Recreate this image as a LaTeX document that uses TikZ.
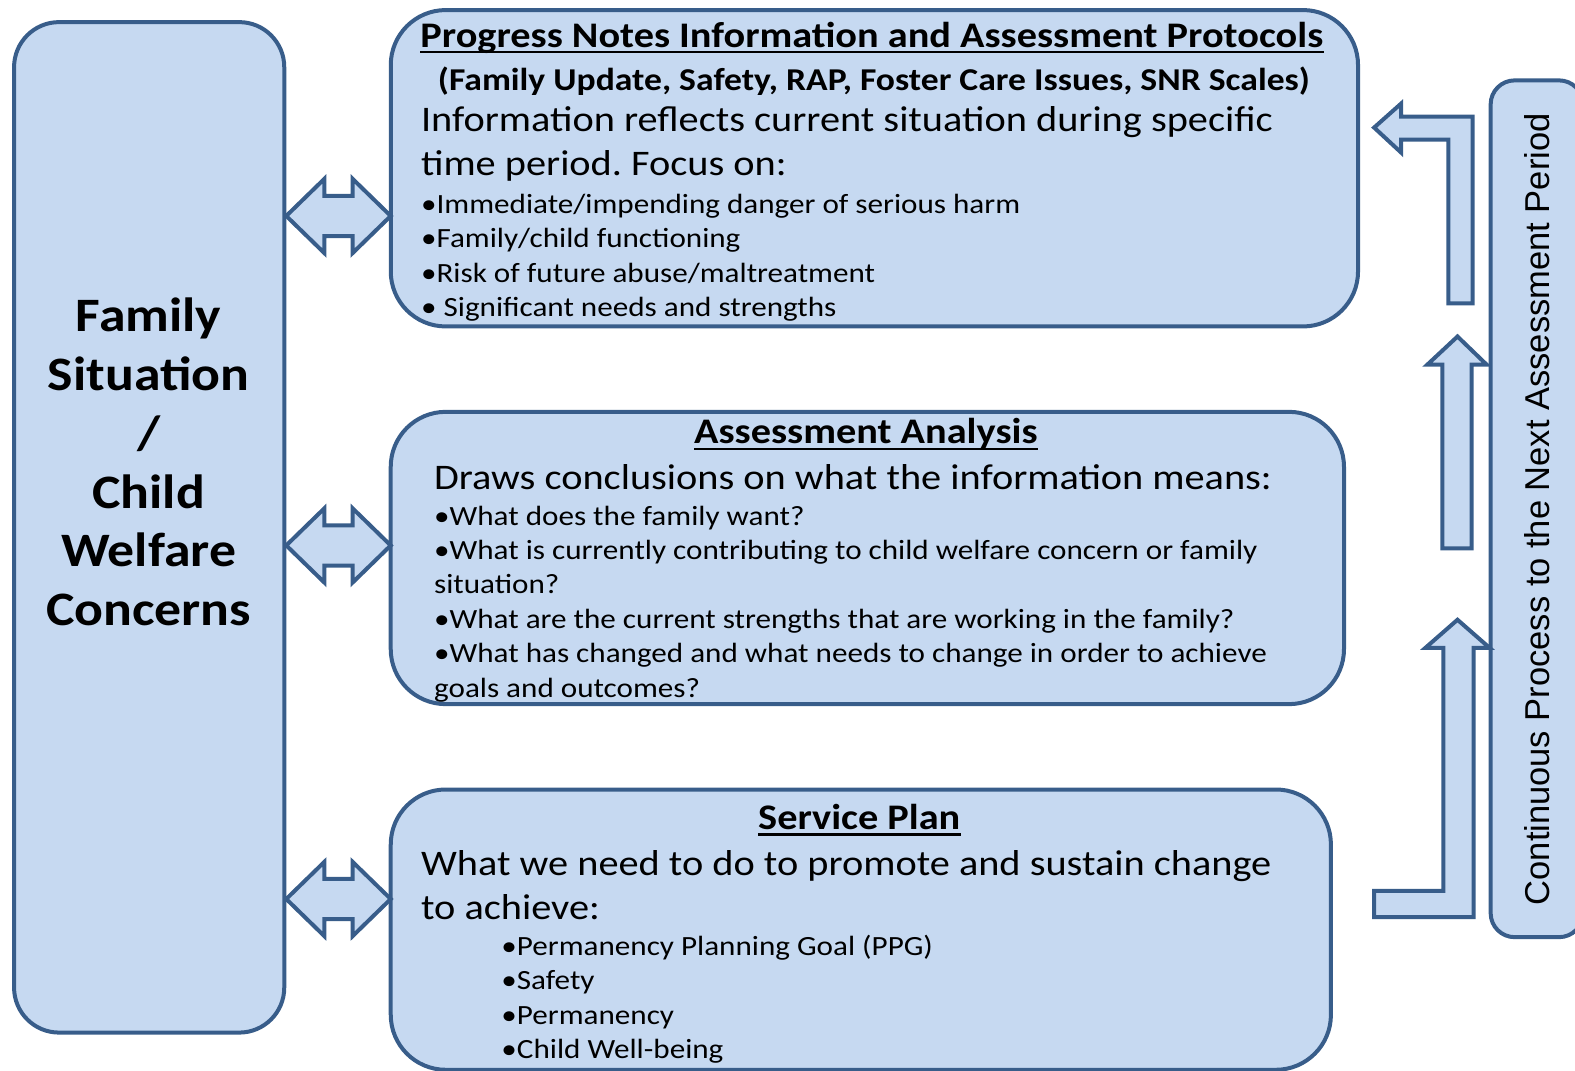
\documentclass[tikz,border=0pt]{standalone}
\usepackage{fontspec}
\setmainfont{Carlito}[FakeStretch=1.12]
\newfontfamily\arialfont{Liberation Sans}
\usetikzlibrary{positioning}
\frenchspacing

\definecolor{boxfill}{RGB}{198,217,241}
\definecolor{boxline}{RGB}{56,93,138}

\tikzset{
  box/.style={draw=boxline,fill=boxfill,line width=4pt,inner sep=0pt},
  blockarrow/.style={draw=boxline,fill=boxfill,line width=4pt,line join=miter},
  txt/.style={inner sep=0pt,anchor=base west,align=left},
  ttl/.style={inner sep=0pt,anchor=base,font=\fontsize{36}{42}\selectfont\bfseries},
  bigtxt/.style={font=\fontsize{36}{44}\selectfont},
  smalltxt/.style={font=\fontsize{27.8}{34.4}\selectfont},
  ul/.style={line width=2.5pt},
  dblarrow/.pic={
    \draw[blockarrow] (0,0) -- (38,-37) -- (38,-20) -- (66,-20) -- (66,-37)
      -- (104,0) -- (66,37) -- (66,20) -- (38,20) -- (38,37) -- cycle;
  }
}

\begin{document}
\begin{tikzpicture}[x=1.0045pt,y=-1.0045pt]
  \useasboundingbox (0,0) rectangle (1568,1066);

  % boxes
  \node[box,rounded corners=45pt,minimum width=270.2pt,minimum height=1010.5pt] (fam) at (148.5,525) {};
  \node[box,rounded corners=55pt,minimum width=967.3pt,minimum height=316.4pt] (notes) at (870.5,167.5) {};
  \node[box,rounded corners=55pt,minimum width=953.3pt,minimum height=292.3pt] (analysis) at (863.5,555.5) {};
  \node[box,rounded corners=55pt,minimum width=940.2pt,minimum height=280.3pt] (plan) at (857,925.5) {};
  \node[box,rounded corners=24pt,minimum width=92.4pt,minimum height=856.8pt] (cont) at (1530,506.5) {};

  % left text
  \node[align=center,inner sep=0pt,font=\fontsize{48}{58.7}\selectfont\bfseries] (famtxt) at (148,460)
    {Family\\Situation\\/\\Child\\Welfare\\Concerns};

  % progress notes
  \node[ttl] (notesttl) at (868,47) {Progress Notes Information and Assessment Protocols};
  \draw[ul] ([yshift=-5pt]notesttl.base west) -- ([yshift=-5pt]notesttl.base east);
  \node[inner sep=0pt,anchor=base,font=\fontsize{31.8}{36}\selectfont\bfseries] (notessub) at (870,90)
    {(Family Update, Safety, RAP, Foster Care Issues, SNR Scales)};
  \node[txt,bigtxt] (notesinfo) at (419,175)
    {Information reflects current situation during specific\\time period. Focus on:};
  \node[txt,smalltxt] (notesbul) at (419,315)
    {•Immediate/impending danger of serious harm\\
     •Family/child functioning\\
     •Risk of future abuse/maltreatment\\
     • Significant needs and strengths};

  % assessment analysis
  \node[ttl] (analysisttl) at (862,442) {Assessment Analysis};
  \draw[ul] ([yshift=-5pt]analysisttl.base west) -- ([yshift=-5pt]analysisttl.base east);
  \node[txt,bigtxt] (analysisinfo) at (432,487)
    {Draws conclusions on what the information means:};
  \node[txt,smalltxt] (analysisbul) at (432,694)
    {•What does the family want?\\
     •What is currently contributing to child welfare concern or family\\
     situation?\\
     •What are the current strengths that are working in the family?\\
     •What has changed and what needs to change in order to achieve\\
     goals and outcomes?};

  % service plan
  \node[ttl] (planttl) at (855.5,826) {Service Plan};
  \draw[ul] ([yshift=-5pt]planttl.base west) -- ([yshift=-5pt]planttl.base east);
  \node[txt,bigtxt] (planinfo) at (419,915)
    {What we need to do to promote and sustain change\\to achieve:};
  \node[txt,smalltxt] (planbul) at (499,1054)
    {•Permanency Planning Goal (PPG)\\
     •Safety\\
     •Permanency\\
     •Child Well-being};

  % right label
  \node[rotate=90,inner sep=0pt,font=\arialfont\fontsize{34.5}{40}\selectfont] (conttxt) at (1530,507)
    {Continuous Process to the Next Assessment Period};

  % double arrows
  \pic at (fam.east |- 0,215) {dblarrow};
  \pic at (fam.east |- 0,543) {dblarrow};
  \pic at (fam.east |- 0,895) {dblarrow};

  % process arrows
  \draw[blockarrow] (1368,127) -- (1395,103) -- (1395,116) -- (1466,116) -- (1466,302)
    -- (1442,302) -- (1442,139) -- (1395,139) -- (1395,152) -- cycle;
  \draw[blockarrow] (1451,335) -- (1480,363) -- (1465,363) -- (1465,546)
    -- (1436,546) -- (1436,363) -- (1421,363) -- cycle;
  \draw[blockarrow] (1451,617) -- (1483,645) -- (1467,645) -- (1467,913)
    -- (1368,913) -- (1368,887) -- (1437,887) -- (1437,645) -- (1419,645) -- cycle;
\end{tikzpicture}
\end{document}
